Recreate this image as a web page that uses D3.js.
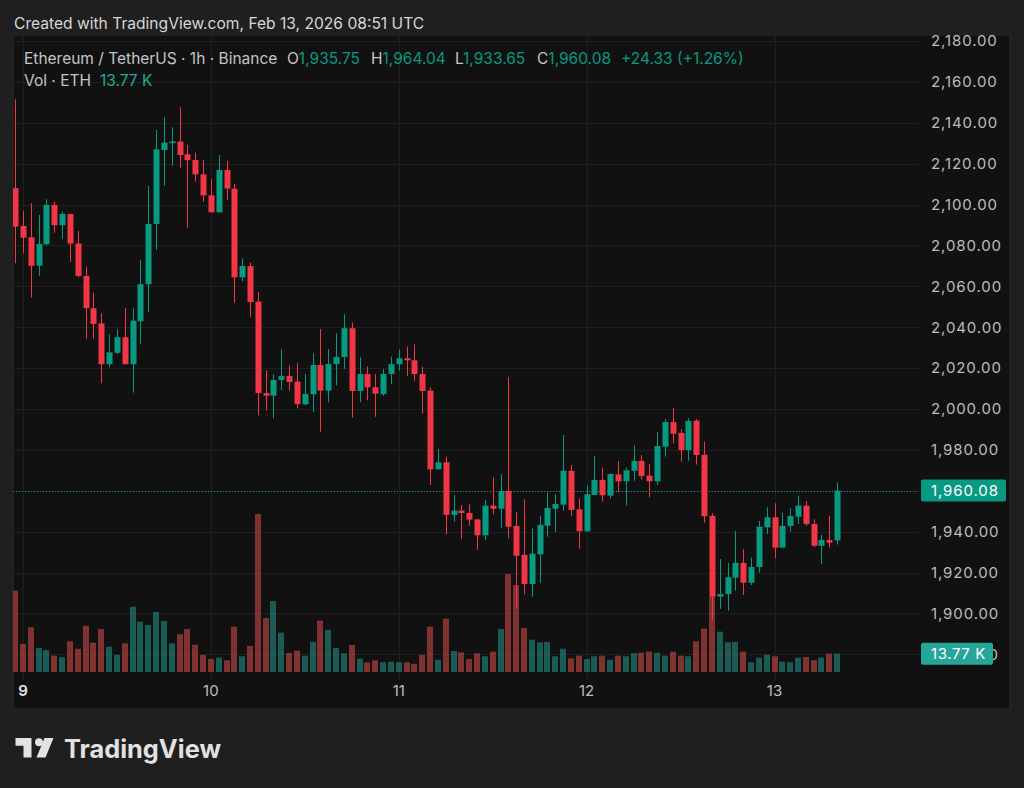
<!DOCTYPE html>
<html><head><meta charset="utf-8">
<script src="https://cdn.jsdelivr.net/npm/d3@7"></script>
<style>
html,body{margin:0;padding:0;background:#1f1f1f;}
svg{display:block;font-family:Inter,"Noto Sans",sans-serif;}
</style>
</head><body>
<svg id="c" width="1024" height="788"></svg>
<script>
// ---- data (ETH/USDT 1h, Binance) ----
const startTime = Date.UTC(2026, 1, 8, 23); // first candle: Feb 8 23:00 UTC, hourly
const open = [2108.0,2089.5,2084.0,2070.1,2080.6,2099.8,2089.9,2095.4,2080.9,2065.1,2049.3,2041.9,2021.9,2027.5,2035.1,2021.9,2042.9,2061.0,2090.5,2126.7,
2130.0,2130.8,2124.6,2121.8,2114.8,2104.5,2096.2,2116.9,2107.8,2064.4,2069.9,2052.5,2007.8,2006.5,2014.2,2016.1,2013.4,2002.3,2007.2,2021.5,
2009.0,2021.9,2025.4,2039.5,2008.8,2017.1,2010.6,2007.3,2017.1,2021.9,2024.8,2023.8,2017.1,2009.0,1970.5,1973.9,1948.2,1950.3,1949.1,1946.0,
1938.2,1952.7,1951.2,1959.9,1942.8,1928.6,1914.4,1928.9,1942.9,1951.2,1953.2,1969.7,1950.9,1940.2,1957.9,1965.3,1957.6,1968.0,1964.6,1969.8,
1974.6,1967.4,1964.6,1981.6,1993.6,1988.3,1979.9,1994.3,1977.6,1947.7,1908.2,1909.5,1917.5,1924.7,1915.0,1922.7,1942.1,1947.0,1932.2,1942.8,
1947.3,1952.7,1943.7,1933.1,1935.9,1935.75];
const high = [2151.5,2096.9,2100.6,2094.9,2102.6,2101.4,2096.5,2095.5,2087.1,2069.6,2056.9,2046.8,2036.5,2039.0,2049.3,2049.3,2072.9,2109.1,2136.5,2142.7,
2137.8,2147.6,2129.1,2125.4,2121.8,2112.4,2124.2,2121.3,2110.1,2073.7,2071.6,2057.2,2019.1,2017.0,2029.3,2021.4,2022.4,2017.1,2027.2,2039.1,
2029.3,2037.0,2046.3,2042.2,2025.3,2020.7,2017.1,2019.6,2025.6,2029.2,2030.5,2031.6,2020.7,2010.6,1980.4,1976.7,1957.9,1953.0,1953.5,1946.0,
1955.5,1966.6,1968.2,2015.5,1949.6,1955.8,1941.6,1947.7,1959.1,1958.3,1987.3,1972.5,1956.3,1962.7,1977.0,1971.3,1968.5,1974.6,1971.3,1982.2,
1977.5,1973.1,1988.7,1995.0,2000.6,1990.2,1995.5,1995.1,1984.0,1949.0,1926.6,1924.7,1940.3,1931.4,1927.3,1945.2,1951.9,1953.9,1949.3,1951.4,
1957.6,1955.0,1946.0,1938.4,1947.7,1964.04];
const low = [2071.3,2076.2,2054.6,2065.2,2080.0,2086.2,2083.3,2071.9,2064.4,2034.1,2034.4,2012.6,2020.4,2026.9,2021.9,2008.0,2031.8,2047.3,2077.8,2109.2,
2118.9,2118.0,2088.7,2111.2,2101.3,2096.2,2096.2,2102.2,2052.0,2062.3,2045.1,1996.9,1999.5,1995.5,2009.3,2009.0,2000.3,2001.8,1998.4,1988.9,
2003.3,2011.6,2019.6,1995.7,2003.3,2004.3,1996.2,2006.5,2012.2,2018.7,2016.1,2013.8,1997.7,1962.8,1970.5,1938.7,1944.9,1936.3,1942.8,1931.0,
1935.9,1948.5,1941.9,1936.8,1902.7,1909.4,1908.2,1915.0,1937.5,1939.7,1950.3,1947.7,1931.7,1939.8,1957.9,1954.7,1956.3,1959.5,1952.7,1964.9,
1965.6,1956.8,1962.8,1976.7,1983.2,1974.2,1974.7,1972.8,1944.4,1896.8,1902.2,1901.3,1911.1,1909.0,1913.9,1919.9,1938.9,1927.0,1932.2,1940.0,
1943.7,1942.8,1932.6,1924.2,1932.2,1933.65];
const close = [2089.2,2083.8,2070.0,2080.7,2099.8,2089.9,2095.4,2080.9,2065.1,2049.3,2041.6,2021.9,2027.7,2035.1,2021.9,2043.2,2061.0,2090.5,2127.0,2130.3,
2130.9,2124.2,2121.7,2114.8,2104.5,2096.2,2116.9,2107.8,2064.4,2069.9,2052.3,2007.8,2006.5,2014.2,2016.1,2013.2,2002.4,2007.3,2021.5,2009.0,
2022.0,2025.4,2039.5,2008.8,2017.1,2010.6,2007.5,2017.1,2021.9,2024.8,2023.8,2017.1,2008.8,1970.5,1973.9,1948.2,1950.3,1949.1,1945.9,1938.2,
1952.7,1951.2,1959.9,1942.4,1928.2,1914.4,1929.2,1943.3,1951.6,1953.5,1969.8,1950.6,1940.2,1958.3,1965.3,1957.8,1968.2,1964.6,1970.0,1974.6,
1967.2,1964.6,1981.9,1993.6,1987.9,1979.9,1994.1,1977.5,1947.5,1908.2,1909.5,1917.7,1924.7,1915.0,1922.7,1942.4,1947.0,1932.2,1942.8,1947.7,
1952.7,1943.7,1933.1,1935.9,1934.6,1960.08];
const volume = [61.2,21.1,33.6,18.1,16.5,12.3,11.1,23.1,17.5,34.8,22.0,32.3,19.0,12.8,21.6,49.1,37.8,35.3,45.1,38.4,
21.6,28.4,32.3,20.5,12.8,9.8,10.8,8.8,34.1,11.8,19.6,118.8,40.6,53.4,29.6,14.3,16.0,12.3,22.6,38.6,
31.8,18.1,14.1,20.3,10.0,7.3,8.8,7.3,7.7,7.3,7.3,6.2,13.0,34.1,9.2,40.1,15.8,14.8,9.8,14.1,
11.8,15.3,32.3,73.7,65.4,33.1,24.3,22.3,22.6,11.8,17.5,10.3,12.3,9.8,11.8,12.3,9.2,12.3,11.8,14.1,
14.5,15.3,14.5,12.3,15.3,12.3,11.8,23.1,32.6,56.9,30.3,22.3,22.6,15.3,7.3,10.8,13.0,11.8,7.7,7.3,
10.8,11.3,8.8,10.8,13.8,13.77]; // thousands of ETH
const priceTicks = [1880,1900,1920,1940,1960,1980,2000,2020,2040,2060,2080,2100,2120,2140,2160,2180];
const dayTicks = [Date.UTC(2026,1,9),Date.UTC(2026,1,10),Date.UTC(2026,1,11),Date.UTC(2026,1,12),Date.UTC(2026,1,13)];
const dayLabels = ["9","10","11","12","13"];
const headerText = "Created with TradingView.com, Feb 13, 2026 08:51 UTC";
const symbolText = "Ethereum / TetherUS · 1h · Binance";

// ---- build ----
const svg = d3.select("#c");
const UP = "#089981", DN = "#f23645";
const VUP = "rgba(38,166,154,0.5)", VDN = "rgba(239,83,80,0.5)";
const plot = {l:13, r:919, t:35, b:680};

const candles = open.map((o,i)=>({t:new Date(startTime + i*3600e3), o, h:high[i], l:low[i], c:close[i], v:volume[i]}));

const x = d3.scaleUtc().domain([dayTicks[0], dayTicks[4]]).range([23, 774.5]);
const y = d3.scaleLinear().domain([1880, 2180]).range([654.3, 41]);
const vy = d3.scaleLinear().domain([0, d3.max(volume)]).range([672, 514]);
const step = x(new Date(startTime+3600e3)) - x(new Date(startTime));
const bw = Math.round(step*0.76);

// background
svg.append("rect").attr("width",1024).attr("height",788).attr("fill","#1f1f1f");
svg.append("rect").attr("x",13).attr("y",35).attr("width",997).attr("height",674)
  .attr("fill","#111111").attr("stroke","#2a2a2a").attr("stroke-width",1);

// grid
const grid = svg.append("g");
grid.selectAll(".hg").data(priceTicks).join("line")
  .attr("x1",plot.l).attr("x2",plot.r)
  .attr("y1",d=>Math.round(y(d))+0.5).attr("y2",d=>Math.round(y(d))+0.5)
  .attr("stroke","#1f1f1f").attr("stroke-width",1);
grid.selectAll(".vg").data(dayTicks).join("line")
  .attr("x1",d=>Math.round(x(d))+0.5).attr("x2",d=>Math.round(x(d))+0.5)
  .attr("y1",plot.t).attr("y2",plot.b)
  .attr("stroke","#1f1f1f").attr("stroke-width",1);

svg.append("clipPath").attr("id","clip").append("rect")
  .attr("x",plot.l).attr("y",plot.t).attr("width",plot.r-plot.l).attr("height",plot.b-plot.t);
const g = svg.append("g").attr("clip-path","url(#clip)");

// volume
g.append("g").selectAll("rect").data(candles).join("rect")
  .attr("x",d=>Math.round(x(d.t)-bw/2)).attr("width",bw)
  .attr("y",d=>vy(d.v)).attr("height",d=>vy(0)-vy(d.v))
  .attr("fill",d=>d.c>=d.o?VUP:VDN);

// last price line
const last = candles[candles.length-1];
g.append("line").attr("x1",plot.l).attr("x2",plot.r)
  .attr("y1",Math.round(y(last.c))+0.5).attr("y2",Math.round(y(last.c))+0.5)
  .attr("stroke",UP).attr("stroke-width",1).attr("stroke-dasharray","1,2");

// candles
const cg = g.append("g").selectAll("g").data(candles).join("g");
cg.append("line")
  .attr("x1",d=>Math.round(x(d.t))+0.5).attr("x2",d=>Math.round(x(d.t))+0.5)
  .attr("y1",d=>y(d.h)).attr("y2",d=>y(d.l))
  .attr("stroke",d=>d.c>=d.o?UP:DN).attr("stroke-width",1);
cg.append("rect")
  .attr("x",d=>Math.round(x(d.t))+0.5-bw/2).attr("width",bw)
  .attr("y",d=>y(Math.max(d.o,d.c)))
  .attr("height",d=>Math.max(1.2, Math.abs(y(d.o)-y(d.c))))
  .attr("fill",d=>d.c>=d.o?UP:DN);

// price axis labels (lowest one sits under the volume box, as in the original)
const fmt = d3.format(",.2f");
svg.append("g").selectAll("text").data(priceTicks).join("text")
  .attr("x",931).attr("y",d=>y(d)).attr("dy","0.36em")
  .attr("fill","#bdbdbd").attr("font-size",15).attr("letter-spacing","0.9")
  .text(d=>fmt(d));

// price box
const py = y(last.c);
svg.append("rect").attr("x",921).attr("y",py-11).attr("width",85).attr("height",22).attr("rx",2).attr("fill",UP);
svg.append("text").attr("x",931).attr("y",py).attr("dy","0.36em").attr("fill","#ffffff")
  .attr("font-size",15).attr("letter-spacing","0.9").text(fmt(last.c));
// volume box
const vfmt = v => d3.format(".2f")(v) + " K";
const vby = vy(last.v);
svg.append("rect").attr("x",921).attr("y",vby-11).attr("width",72).attr("height",22).attr("rx",2).attr("fill","#26a69a");
svg.append("text").attr("x",931).attr("y",vby).attr("dy","0.36em").attr("fill","#ffffff")
  .attr("font-size",15).attr("letter-spacing","0.6").text(vfmt(last.v));

// time axis
svg.append("g").selectAll("text").data(dayTicks).join("text")
  .attr("x",d=>x(d)).attr("y",691).attr("dy","0.36em").attr("text-anchor","middle")
  .attr("font-size",15)
  .attr("fill",(d,i)=>i===0?"#e6e6e6":"#bdbdbd")
  .attr("font-weight",(d,i)=>i===0?600:400)
  .text((d,i)=>dayLabels[i]);

// header
svg.append("text").attr("x",14).attr("y",29).attr("fill","#d6d6d6").attr("font-size",15.6).text(headerText);

// legend
const lg = svg.append("g").attr("font-size",15.5);
lg.append("text").attr("x",24).attr("y",64).attr("fill","#c4c4c4").text(symbolText);
const ohlc = [["O",last.o,287],["H",last.h,371],["L",last.l,455],["C",last.c,537]];
ohlc.forEach(([k,v,px])=>{
  const t = lg.append("text").attr("x",px).attr("y",64);
  t.append("tspan").attr("fill","#c4c4c4").text(k);
  t.append("tspan").attr("fill",UP).text(fmt(v));
});
const chg = last.c - last.o;
lg.append("text").attr("x",621).attr("y",64).attr("fill",UP)
  .text((chg>=0?"+":"")+fmt(chg)+" ("+(chg>=0?"+":"")+d3.format(".2f")(chg/last.o*100)+"%)");
lg.append("text").attr("x",24).attr("y",86).attr("fill","#c4c4c4").text("Vol · ETH");
lg.append("text").attr("x",100).attr("y",86).attr("fill","#22ab94").text(vfmt(last.v));

// logo
const logo = svg.append("g").attr("fill","#e2e2e2");
logo.append("path").attr("d","M15.5,738 H31.5 V757.5 H23.5 V745.8 H15.5 Z");
logo.append("circle").attr("cx",39).attr("cy",742.2).attr("r",4);
logo.append("path").attr("d","M44.5,738 H53.5 L45.5,757.5 H36.5 Z");
logo.append("text").attr("x",64).attr("y",758).attr("font-size",25).attr("font-weight",700)
  .attr("textLength",157).attr("lengthAdjust","spacingAndGlyphs").text("TradingView");
</script>
</body></html>
